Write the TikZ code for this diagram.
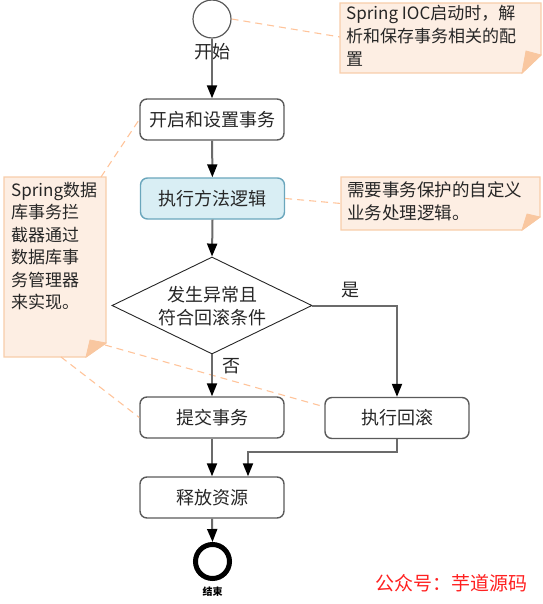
\documentclass[tikz,border=0pt]{standalone}
\usepackage{fontspec}
\setmainfont{Noto Sans CJK SC}
\usetikzlibrary{arrows.meta,shapes.geometric,calc}
\definecolor{notefill}{HTML}{FDEEE3}
\definecolor{noteline}{HTML}{F8CDAA}
\definecolor{flapc}{HTML}{F9C7A0}
\definecolor{dashc}{HTML}{FFC49B}
\definecolor{boxline}{HTML}{5A5A5A}
\definecolor{bluefill}{HTML}{D9EEF4}
\definecolor{blueline}{HTML}{6AA6BC}
\definecolor{conn}{HTML}{6B6B6B}
\definecolor{wmred}{HTML}{FF2020}
\begin{document}
\begin{tikzpicture}[x=1pt,y=-1pt,
  txt/.style={font=\fontsize{17.5}{23}\selectfont},
  boxtxt/.style={font=\fontsize{18}{23}\selectfont},
  stepbox/.style={boxtxt, text=black!85, draw=boxline, line width=1.4pt, rounded corners=7pt,
    minimum width=144pt, minimum height=41pt, inner sep=0pt, fill=white},
  bluebox/.style={stepbox, draw=blueline, fill=bluefill},
  flow/.style={draw=conn, line width=2pt, -{Triangle[length=13pt,width=10pt,color=black]}},
  noteframe/.style={inner sep=0pt, outer sep=0pt},
  notebody/.style={fill=notefill, draw=noteline, line width=1.2pt, line join=miter},
  flapbody/.style={fill=flapc, draw=flapc, line width=0.8pt},
  notetext/.style={txt, text=black!85, align=left, anchor=north west, inner sep=0pt},
  dashline/.style={draw=dashc, line width=1.1pt, dash pattern=on 7pt off 5pt},
]
\useasboundingbox (0,0) rectangle (542,604);

% ---------- notes ----------
\node[noteframe, minimum width=201pt, minimum height=70pt, anchor=north west] (n1) at (340,3) {};
\draw[notebody] (n1.north west) -- (n1.north east) -- ([yshift=18pt]n1.south east)
   -- ([xshift=-19pt]n1.south east) -- (n1.south west) -- cycle;
\draw[flapbody] ([yshift=18pt]n1.south east) -- ([xshift=-19pt]n1.south east)
   -- ([xshift=-15pt,yshift=22pt]n1.south east) -- cycle;
\node[notetext, font=\fontsize{17}{23}\selectfont] (t1) at (346,5) {Spring IOC启动时，解\\析和保存事务相关的配\\置};

\node[noteframe, minimum width=199pt, minimum height=53pt, anchor=north west] (n2) at (341,177) {};
\draw[notebody] (n2.north west) -- (n2.north east) -- ([yshift=13pt]n2.south east)
   -- ([xshift=-18pt]n2.south east) -- (n2.south west) -- cycle;
\draw[flapbody] ([yshift=13pt]n2.south east) -- ([xshift=-18pt]n2.south east)
   -- ([xshift=-13pt,yshift=16pt]n2.south east) -- cycle;
\node[notetext] (t2) at (347,181) {需要事务保护的自定义\\业务处理逻辑。};

\node[noteframe, minimum width=102pt, minimum height=180pt, anchor=north west] (n3) at (4,177) {};
\draw[notebody] (n3.north west) -- (n3.north east) -- ([yshift=14pt]n3.south east)
   -- ([xshift=-20pt]n3.south east) -- (n3.south west) -- cycle;
\draw[flapbody] ([yshift=14pt]n3.south east) -- ([xshift=-20pt]n3.south east)
   -- ([xshift=-16pt,yshift=17pt]n3.south east) -- cycle;
\node[notetext, font=\fontsize{17}{22.4}\selectfont] (t3) at (11,182) {Spring数据\\库事务拦\\截器通过\\数据库事\\务管理器\\来实现。};

% ---------- flow nodes ----------
\node[circle, draw=boxline, line width=1.2pt, minimum size=38pt, inner sep=0pt, fill=white] (start) at (212,19) {};
\node[stepbox] (b1) at (212,119.5) {开启和设置事务};
\node[bluebox] (b2) at (212.5,198.5) {执行方法逻辑};
\node[diamond, draw=black!85, line width=0.9pt, minimum width=200pt, minimum height=97pt, inner sep=0pt, fill=white] (d) at (212,305.5) {};
\node[boxtxt, text=black!85, align=center, inner sep=0pt] (dt) at (212,306) {发生异常且\\符合回滚条件};
\node[stepbox] (b3) at (212,417.5) {提交事务};
\node[stepbox] (b4) at (397,418) {执行回滚};
\node[stepbox] (b5) at (212,497.5) {释放资源};
\node[circle, draw=black, line width=5pt, minimum size=34pt, inner sep=0pt] (end) at (212.5,561.5) {};

% ---------- dashed note links ----------
\draw[dashline] (start.east) -- ($(n1.north west)+(0,34)$);
\draw[dashline] (b2.east) -- (n2.west);
\coordinate (n3top) at ($(n3.north east)+(-5,0)$);
\draw[dashline] (n3top) -- (b1.west);
\coordinate (n3tip) at ($(n3.south east)+(-1,-12)$);
\draw[dashline] (n3tip) -- ($(b4.north west)+(0,10)$);
\coordinate (n3bot) at ($(n3.south west)+(57,0)$);
\draw[dashline] (n3bot) -- (b3.west);

% ---------- flow connectors ----------
\draw[flow] (start) -- (b1);
\draw[flow] (b1) -- (b2);
\draw[flow] (b2.south) -- (d.north);
\draw[flow] (d.south) -- (b3.north);
\draw[flow] (d.east) -| (b4.north);
\draw[flow] (b3) -- (b5);
\coordinate (bend) at (248,452);
\draw[flow] (b4.south) |- (bend) -- (bend |- b5.north);
\draw[flow] (b5.south) -- (end.north);

% ---------- labels ----------
\node[boxtxt, text=black!85, inner sep=0pt] (lstart) at (212,52) {开始};
\node[boxtxt, text=black!85, inner sep=0pt] (lyes) at (350,290) {是};
\node[boxtxt, text=black!85, inner sep=0pt] (lno) at (231,366) {否};
\node[font=\fontsize{10}{12}\selectfont\bfseries, inner sep=0pt] (lend) at (212.5,592) {结束};
\node[font=\fontsize{19}{22}\selectfont, text=wmred, inner sep=0pt] (wm) at (451,583) {公众号：芋道源码};
\end{tikzpicture}
\end{document}
